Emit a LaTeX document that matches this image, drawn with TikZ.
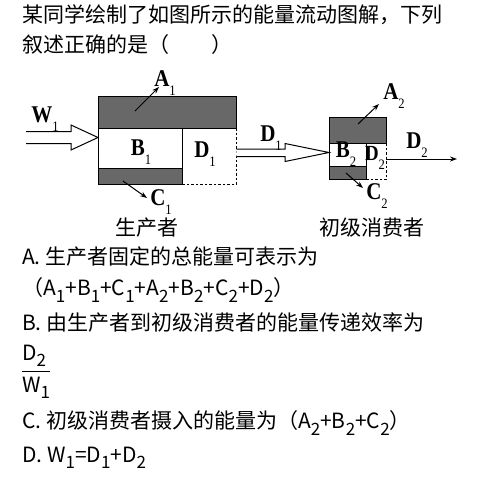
\documentclass[tikz,border=0pt]{standalone}
\usepackage{fontspec}
\setmainfont{Liberation Serif}
\newfontfamily\cjk{Noto Sans CJK SC}
\usetikzlibrary{arrows.meta,calc}
\definecolor{boxgray}{RGB}{104,104,104}
\newcommand{\lsub}[1]{\raisebox{-0.4em}{\fontsize{12}{12}\selectfont\mdseries #1}}
\newcommand{\lb}[2]{\scalebox{1.05}[1.2]{\textbf{#1}\lsub{#2}}}
\newcommand{\tsub}[1]{\raisebox{-0.3em}{\fontsize{17}{17}\selectfont #1}}
\begin{document}
\begin{tikzpicture}[x=1pt,y=-1pt,
  darkbox/.style={draw, fill=boxgray, line width=1.1pt, inner sep=0pt, anchor=north west},
  whitebox/.style={draw, fill=white, line width=1.1pt, inner sep=0pt, anchor=north west},
  openbox/.style={inner sep=0pt, anchor=north west},
  dashedge/.style={line width=0.9pt, dash pattern=on 2.5pt off 2pt},
  hollow/.style={draw, fill=white, line width=1pt, line join=miter},
  outarrow/.style={line width=1pt, -{Stealth[length=7pt,width=5pt]}},
  lab/.style={font=\fontsize{20}{20}\selectfont, inner sep=0pt},
  cjklab/.style={font=\cjk\fontsize{21}{21}\selectfont, inner sep=0pt},
  txt/.style={font=\cjk\fontsize{21}{21}\selectfont, inner sep=0pt, anchor=west}]
\useasboundingbox (0,0) rectangle (480,480);
\fill[white] (0,0) rectangle (480,480);

% title
\node[txt] (t1) at (22,15) {某同学绘制了如图所示的能量流动图解，下列};
\node[txt] (t2) at (22,45) {叙述正确的是（　　）};

% producer
\node[darkbox, minimum width=138pt, minimum height=32pt] (A1box) at (98,96) {};
\node[whitebox, minimum width=84pt, minimum height=40pt] (B1box) at (98,128) {};
\node[darkbox, minimum width=84pt, minimum height=16pt] (C1box) at (98,168) {};
\node[openbox, minimum width=54pt, minimum height=56pt] (D1box) at (182,128) {};
\draw[dashedge] (D1box.north east) -- (D1box.south east) -- (D1box.south west);

% consumer
\node[darkbox, minimum width=57pt, minimum height=26pt] (A2box) at (329,117) {};
\node[whitebox, minimum width=37pt, minimum height=23pt] (B2box) at (329,143) {};
\node[darkbox, minimum width=37pt, minimum height=13pt] (C2box) at (329,166) {};
\node[openbox, minimum width=20pt, minimum height=36pt] (D2box) at (366,143) {};
\draw[dashedge] (D2box.north east) -- (D2box.south east) -- (D2box.south west);

% hollow arrows
\coordinate (w1tip) at (B1box.west |- 0,137.5);
\draw[hollow] (26,131.5) -- (71,131.5) -- (71,125) -- (w1tip) -- (71,150) -- (71,143.5) -- (26,143.5);
\coordinate (d1tip) at (A2box.west |- 0,152.5);
\draw[hollow] (D1box.east |- 0,149) -- (285,149) -- (285,143.5) -- (d1tip) -- (285,161.5) -- (285,156.5) -- (D1box.east |- 0,156.5);

% labels
\node[lab] (W1) at (45,119) {\lb{W}{1}};
\node[lab] (A1) at (165,83) {\lb{A}{1}};
\node[lab] (B1) at (141,152) {\lb{B}{1}};
\node[lab] (D1in) at (205,154) {\lb{D}{1}};
\node[lab] (C1) at (161,202) {\lb{C}{1}};
\node[lab] (D1) at (271,138) {\lb{D}{1}};
\node[lab] (A2) at (394,96) {\lb{A}{2}};
\node[lab] (B2) at (346,154) {\lb{B}{2}};
\node[lab, font=\fontsize{18}{18}\selectfont] (D2in) at (375,158) {\lb{D}{2}};
\node[lab] (D2) at (417,145) {\lb{D}{2}};
\node[lab] (C2) at (377,196) {\lb{C}{2}};
\node[cjklab] (prod) at (147,228) {生产者};
\node[cjklab] (cons) at (372,228) {初级消费者};

% thin arrows
\coordinate (a1s) at (135,111);
\coordinate (c1s) at (123,181);
\coordinate (a2s) at (358,124);
\coordinate (c2s) at (346,173);
\draw[outarrow] (a1s) -- (159,87);
\draw[outarrow] (c1s) -- (147,198);
\draw[outarrow] (a2s) -- (379,104);
\draw[outarrow] (c2s) -- (363,188);
\coordinate (d2end) at (457,159);
\draw[outarrow] (D2box.east |- 0,159) -- (d2end);

% options
\node[txt] (oA) at (22,257) {A. 生产者固定的总能量可表示为};
\node[txt] (oA2) at (22,290) {（A\tsub{1}+B\tsub{1}+C\tsub{1}+A\tsub{2}+B\tsub{2}+C\tsub{2}+D\tsub{2}）};
\node[txt] (oB) at (22,323) {B. 由生产者到初级消费者的能量传递效率为};
\node[txt] (fn) at (22,356) {D\tsub{2}};
\node[txt] (fd) at (22,388) {W\tsub{1}};
\draw[line width=1pt] (22,371) -- (50,371);
\node[txt] (oC) at (22,423) {C. 初级消费者摄入的能量为（A\tsub{2}+B\tsub{2}+C\tsub{2}）};
\node[txt] (oD) at (22,458) {D. W\tsub{1}=D\tsub{1}+D\tsub{2}};
\end{tikzpicture}
\end{document}
